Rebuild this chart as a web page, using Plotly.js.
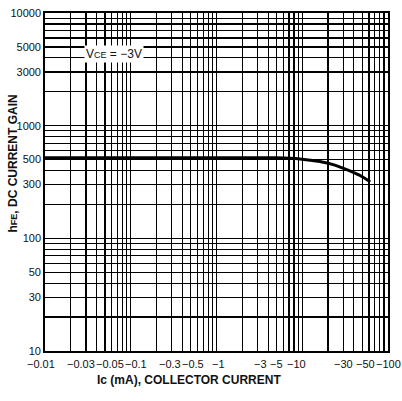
<!DOCTYPE html>
<html>
<head>
<meta charset="utf-8">
<script src="https://cdn.plot.ly/plotly-3.0.1.min.js"></script>
<style>html,body{margin:0;padding:0;background:#fff;}#chart{width:402px;height:401px;}</style>
</head>
<body>
<div id="chart"></div>
<script>
// Collector current Ic (mA, magnitude) and DC current gain hFE
const icCurrent = [0.01, 0.1, 1, 3, 5, 9.4, 16, 24, 36, 50, 62];
const hfeGain   = [520, 520, 520, 520, 518, 506, 480, 447, 396, 352, 317];

// Tick labels
const xLabelValues = [0.01, 0.03, 0.05, 0.1, 0.3, 0.5, 1, 3, 5, 10, 30, 50, 100];
const xLabelTexts  = ["\u22120.01","\u22120.03","\u22120.05","\u22120.1","\u22120.3","\u22120.5","\u22121","\u22123","\u22125","\u221210","\u221230","\u221250","\u2212100"];
const yLabelValues = [10, 30, 50, 100, 300, 500, 1000, 3000, 5000, 10000];
const yLabelTexts  = ["10","30","50","100","300","500","1000","3000","5000","10000"];

// label nudges (pixels) to mimic the printed label spacing
const xLabelNudge = [-4, -5, 5, 5, -2, 2, 2, 3, 0, -6, 0, 3, 0];

function gridValues(d0, d1) {
  const out = [];
  for (let d = d0; d < d1; d++) {
    for (let m = 1; m <= 9; m++) out.push(+(m * Math.pow(10, d)).toPrecision(3));
  }
  out.push(Math.pow(10, d1));
  return out;
}
const xGrid = gridValues(-2, 2);
const yGrid = gridValues(1, 4);
const yGridText = yGrid.map(v => {
  const i = yLabelValues.indexOf(v);
  return i >= 0 ? yLabelTexts[i] : "";
});

const font = "Liberation Sans, Arial, sans-serif";

const annotations = xLabelValues.map((v, i) => ({
  x: Math.log10(v), xref: "x", y: 0, yref: "paper",
  yanchor: "top", xanchor: "center", yshift: -5, xshift: xLabelNudge[i],
  text: xLabelTexts[i], showarrow: false,
  font: {family: font, size: 11, color: "#111"}
}));
annotations.push({
  x: 0.42, xref: "paper", y: -0.06, yref: "paper", yanchor: "top",
  text: "<b>Ic (mA), COLLECTOR CURRENT</b>",
  showarrow: false, font: {family: font, size: 12, color: "#111"}
});
annotations.push({
  x: -0.093, xref: "paper", y: 0.555, yref: "paper", textangle: -90,
  xanchor: "center", yanchor: "middle",
  text: "<b>h<span style='font-size:9px'>FE</span>, DC CURRENT GAIN</b>",
  showarrow: false, font: {family: font, size: 12, color: "#111"}
});
annotations.push({
  x: -1.2, xref: "x", y: 3.64, yref: "y",
  text: "V<span style='font-size:9px'>CE</span> = \u22123V",
  showarrow: false, bgcolor: "#fff", borderpad: 1,
  font: {family: font, size: 12, color: "#111"}
});

const data = [{
  x: icCurrent, y: hfeGain, type: "scatter", mode: "lines",
  line: {color: "#000", width: 3, shape: "spline"},
  hoverinfo: "skip"
}];

const layout = {
  width: 402, height: 401,
  margin: {l: 45, r: 14, t: 13, b: 50},
  paper_bgcolor: "#fff", plot_bgcolor: "#fff",
  showlegend: false,
  xaxis: {
    type: "log", range: [-2, 2],
    tickmode: "array", tickvals: xGrid, ticktext: xGrid.map(() => ""),
    showgrid: true, gridcolor: "#000", gridwidth: 1.2,
    showline: true, mirror: true, linecolor: "#000", linewidth: 1.8,
    ticks: "", zeroline: false, tickangle: 0, fixedrange: true
  },
  yaxis: {
    type: "log", range: [1, 4],
    tickmode: "array", tickvals: yGrid, ticktext: yGridText,
    tickfont: {family: font, size: 11, color: "#111"},
    showgrid: true, gridcolor: "#000", gridwidth: 1.2,
    showline: true, mirror: true, linecolor: "#000", linewidth: 1.8,
    ticks: "", ticklabelstandoff: 0, zeroline: false, fixedrange: true
  },
  annotations: annotations
};

Plotly.newPlot("chart", data, layout, {staticPlot: true, displayModeBar: false});
</script>
</body>
</html>
